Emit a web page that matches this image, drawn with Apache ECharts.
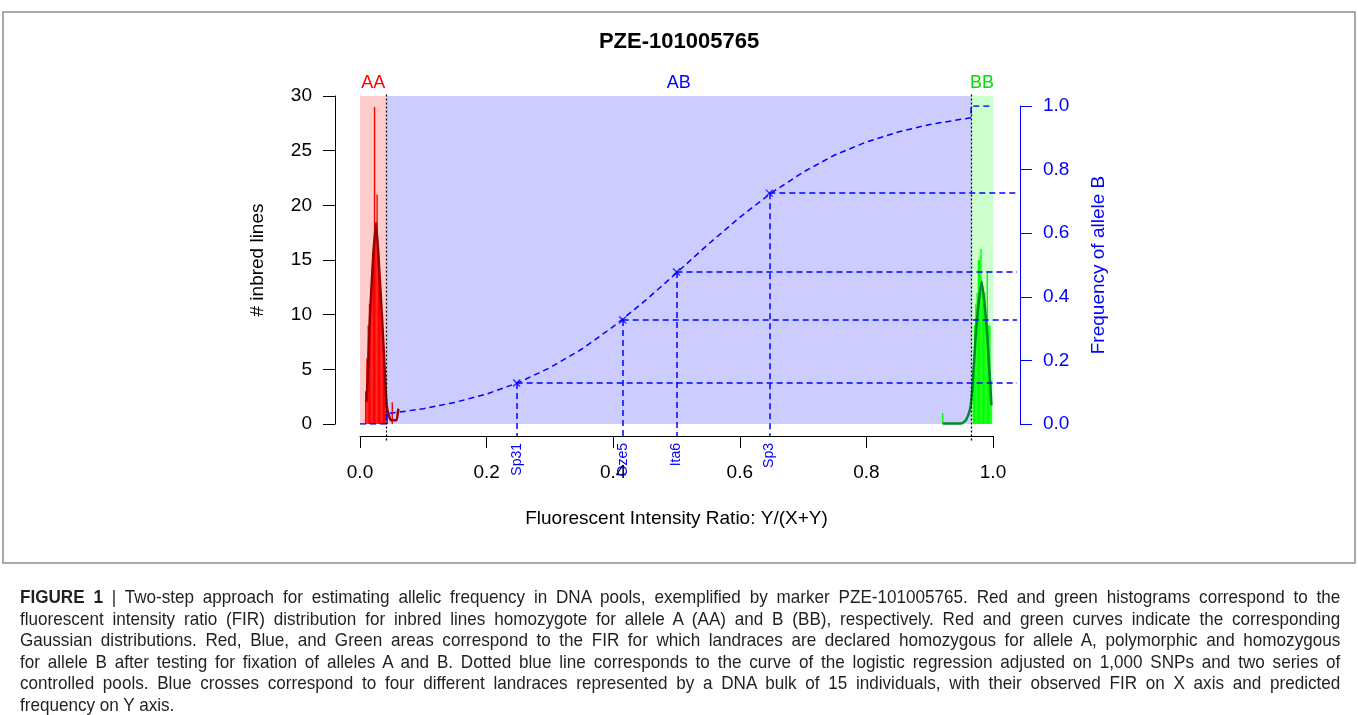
<!DOCTYPE html>
<html>
<head>
<meta charset="utf-8">
<title>PZE-101005765</title>
<script src="https://cdn.jsdelivr.net/npm/echarts@6/dist/echarts.min.js"></script>
<style>
	html, body { margin: 0; padding: 0; background: #fff; }
	#wrap { position: relative; width: 1358px; height: 715px; overflow: hidden; }
	#chart { position: absolute; left: 0; top: 0; width: 1358px; height: 715px; }
	#caption {
		position: absolute; left: 20px; top: 586px; width: 1467px;
		font-family: "Liberation Sans", Arial, sans-serif;
		font-size: 19px; line-height: 21.6px; color: #231f20;
	}
	#caption div {
		width: 1467px; white-space: nowrap;
		text-align: justify; text-align-last: justify;
		transform: scaleX(0.9); transform-origin: left center;
	}
	#caption div.last { text-align-last: left; }
</style>
</head>
<body>
<div id="wrap">
	<div id="chart"></div>
	<div id="caption">
		<div><b>FIGURE 1</b> | Two-step approach for estimating allelic frequency in DNA pools, exemplified by marker PZE-101005765. Red and green histograms correspond to the</div>
		<div>fluorescent intensity ratio (FIR) distribution for inbred lines homozygote for allele A (AA) and B (BB), respectively. Red and green curves indicate the corresponding</div>
		<div>Gaussian distributions. Red, Blue, and Green areas correspond to the FIR for which landraces are declared homozygous for allele A, polymorphic and homozygous</div>
		<div>for allele B after testing for fixation of alleles A and B. Dotted blue line corresponds to the curve of the logistic regression adjusted on 1,000 SNPs and two series of</div>
		<div>controlled pools. Blue crosses correspond to four different landraces represented by a DNA bulk of 15 individuals, with their observed FIR on X axis and predicted</div>
		<div class="last">frequency on Y axis.</div>
	</div>
</div>
<script>
	const FONT = '"Liberation Sans", Arial, Helvetica, sans-serif';
	const BLUE = '#0000FF';

	// axis ranges
	const countMax = 30;

	// AA / AB / BB zones (FIR limits)
	const zoneNames = ['AA', 'AB', 'BB'];
	const zoneFrom = [0, 0.0416, 0.9653];
	const zoneTo = [0.0416, 0.9653, 1.0];
	const zoneFill = ['#FFCCCC', '#CCCCFF', '#CCFFCC'];
	const zoneText = ['#FF0000', '#0000FF', '#00E000'];
	const thresholds = [0.0416, 0.9653];

	// histogram of inbred lines, allele A (red)
	const binAA = [0.009, 0.011, 0.013, 0.015, 0.017, 0.019, 0.021, 0.023, 0.025, 0.027, 0.029, 0.031, 0.033, 0.035, 0.037, 0.039, 0.041, 0.043, 0.051];
	const countAA = [3, 6, 9, 11, 12, 14, 16, 29, 18, 21, 16, 13, 11, 9, 7, 4, 2, 1, 2];

	// histogram of inbred lines, allele B (green)
	const binBB = [0.9205, 0.969, 0.971, 0.973, 0.975, 0.977, 0.979, 0.981, 0.983, 0.985, 0.987, 0.989, 0.991, 0.993, 0.995, 0.997];
	const countBB = [1, 5, 9, 11, 12, 15, 15, 16, 13, 11, 12, 10, 14, 9, 9, 4];

	// gaussian curves
	const gaussAAx = [0.0105, 0.0130, 0.0155, 0.0205, 0.0253, 0.0300, 0.0350, 0.0390, 0.0421, 0.0460, 0.0495, 0.0575, 0.0605];
	const gaussAAy = [2.0, 5.5, 9.5, 15.0, 18.4, 14.5, 9.5, 5.0, 1.7, 0.7, 0.35, 0.35, 1.4];
	const gaussBBx = [0.9205, 0.9500, 0.9570, 0.9620, 0.9648, 0.9679, 0.9740, 0.9820, 0.9900, 0.9975];
	const gaussBBy = [0.05, 0.05, 0.35, 1.0, 1.7, 3.7, 9.1, 13.0, 8.8, 1.7];

	// logistic regression (frequency of allele B vs FIR)
	const fitX = [0, 0.0416, 0.0416, 0.10, 0.15, 0.20, 0.25, 0.30, 0.35, 0.40, 0.45, 0.50, 0.55, 0.60, 0.65, 0.70, 0.75, 0.80, 0.85, 0.90, 0.9653, 0.9653, 1.0];
	const fitY = [0, 0, 0.032, 0.048, 0.068, 0.094, 0.130, 0.177, 0.235, 0.306, 0.387, 0.475, 0.565, 0.650, 0.727, 0.792, 0.846, 0.887, 0.918, 0.942, 0.963, 1.0, 1.0];

	// landraces
	const landraceNames = ['Sp31', 'Oze5', 'Ita6', 'Sp3'];
	const landraceFIR = [0.2475, 0.415, 0.500, 0.6466];
	const landraceFreq = [0.129, 0.327, 0.478, 0.726];

	const zip = (a, b) => a.map((v, i) => [v, b[i]]);

	let myChart = echarts.init(document.getElementById('chart'), null, { renderer: 'canvas' });

	// dashed guides from each landrace to the axes
	let guides = [];
	landraceFIR.forEach((x, i) => {
		guides.push({ coords: [[x, landraceFreq[i]], [1.038, landraceFreq[i]]] });
		guides.push({ coords: [[x, landraceFreq[i]], [x, -0.038]] });
	});

	let option = {
		animation: false,
		textStyle: { fontFamily: FONT },
		title: {
			text: 'PZE-101005765',
			left: 'center',
			top: 26,
			textStyle: { fontSize: 22, fontWeight: 'bold', color: '#000', fontFamily: FONT }
		},
		graphic: [{
			type: 'rect',
			shape: { x: 3, y: 12, width: 1352, height: 551 },
			style: { fill: 'none', stroke: '#8c8c8c', lineWidth: 1.5 },
			silent: true
		}],
		grid: [
			{ left: 360, right: 365, top: 96, bottom: 291 },
			{ left: 360, right: 365, top: 106, bottom: 291 }
		],
		xAxis: [{
			gridIndex: 0,
			type: 'value',
			min: 0,
			max: 1,
			interval: 0.2,
			offset: 12,
			name: 'Fluorescent Intensity Ratio: Y/(X+Y)',
			nameLocation: 'middle',
			nameGap: 73,
			nameTextStyle: { fontSize: 19, color: '#000', fontFamily: FONT },
			axisLine: { show: true, onZero: false, lineStyle: { color: '#000', width: 1 } },
			axisTick: { show: true, length: 12, lineStyle: { color: '#000' } },
			axisLabel: {
				margin: 27, fontSize: 19, color: '#000', fontFamily: FONT,
				formatter: v => v.toFixed(1)
			},
			splitLine: { show: false }
		}, {
			gridIndex: 1,
			type: 'value',
			min: 0,
			max: 1,
			position: 'bottom',
			axisLine: { show: false },
			axisTick: { show: false },
			axisLabel: {
				customValues: landraceFIR,
				rotate: 90,
				margin: 19,
				fontSize: 14,
				color: BLUE,
				fontFamily: FONT,
				formatter: v => landraceNames[landraceFIR.indexOf(v)] || ''
			},
			splitLine: { show: false }
		}],
		yAxis: [{
			gridIndex: 0,
			type: 'value',
			min: 0,
			max: countMax,
			interval: 5,
			position: 'left',
			offset: 25,
			name: '# inbred lines',
			nameLocation: 'middle',
			nameGap: 68,
			nameTextStyle: { fontSize: 19, color: '#000', fontFamily: FONT },
			axisLine: { show: true, onZero: false, lineStyle: { color: '#000', width: 1 } },
			axisTick: { show: true, length: 12, lineStyle: { color: '#000' } },
			axisLabel: { margin: 23, fontSize: 19, color: '#000', fontFamily: FONT },
			splitLine: { show: false }
		}, {
			gridIndex: 1,
			type: 'value',
			min: 0,
			max: 1,
			interval: 0.2,
			position: 'right',
			offset: 27,
			name: 'Frequency of allele B',
			nameLocation: 'middle',
			nameGap: 69,
			nameTextStyle: { fontSize: 19, color: BLUE, fontFamily: FONT },
			axisLine: { show: true, onZero: false, lineStyle: { color: BLUE, width: 1 } },
			axisTick: { show: true, length: 12, lineStyle: { color: BLUE } },
			axisLabel: {
				margin: 23, fontSize: 19, color: BLUE, fontFamily: FONT,
				formatter: v => v.toFixed(1)
			},
			splitLine: { show: false }
		}],
		series: [
			// coloured zones + AA / AB / BB labels
			{
				type: 'custom',
				xAxisIndex: 0,
				yAxisIndex: 0,
				z: 0,
				silent: true,
				data: zoneFrom.map((v, i) => [v, zoneTo[i]]),
				renderItem: function (params, api) {
					const i = params.dataIndex;
					const p0 = api.coord([api.value(0), countMax]);
					const p1 = api.coord([api.value(1), 0]);
					return {
						type: 'group',
						children: [{
							type: 'rect',
							shape: { x: p0[0], y: p0[1], width: p1[0] - p0[0], height: p1[1] - p0[1] },
							style: { fill: zoneFill[i] }
						}, {
							type: 'text',
							style: {
								text: zoneNames[i],
								x: (p0[0] + p1[0]) / 2,
								y: p0[1] - 4,
								align: 'center',
								verticalAlign: 'bottom',
								fill: zoneText[i],
								fontSize: 18,
								fontFamily: FONT
							}
						}]
					};
				}
			},
			{
				name: 'AA',
				type: 'bar',
				xAxisIndex: 0,
				yAxisIndex: 0,
				z: 2,
				barWidth: 1.4,
				barGap: '-100%',
				data: zip(binAA, countAA),
				itemStyle: { color: '#FF0000' }
			},
			{
				name: 'BB',
				type: 'bar',
				xAxisIndex: 0,
				yAxisIndex: 0,
				z: 2,
				barWidth: 1.4,
				barGap: '-100%',
				data: zip(binBB, countBB),
				itemStyle: { color: '#00FF00' }
			},
			{
				type: 'line',
				xAxisIndex: 0,
				yAxisIndex: 0,
				z: 3,
				symbol: 'none',
				smooth: 0.2,
				data: zip(gaussAAx, gaussAAy),
				lineStyle: { color: '#9B0000', width: 2.5 }
			},
			{
				type: 'line',
				xAxisIndex: 0,
				yAxisIndex: 0,
				z: 3,
				symbol: 'none',
				smooth: 0.2,
				data: zip(gaussBBx, gaussBBy),
				lineStyle: { color: '#008A28', width: 2.5 }
			},
			// thresholds (dotted)
			{
				type: 'lines',
				coordinateSystem: 'cartesian2d',
				xAxisIndex: 0,
				yAxisIndex: 0,
				z: 4,
				clip: false,
				silent: true,
				data: thresholds.map(t => ({ coords: [[t, -1.5], [t, 30.2]] })),
				lineStyle: { color: '#000', width: 1.3, type: [2, 2], opacity: 1 }
			},
			// logistic curve
			{
				type: 'line',
				xAxisIndex: 1,
				yAxisIndex: 1,
				z: 5,
				symbol: 'none',
				data: zip(fitX, fitY),
				lineStyle: { color: BLUE, width: 1.5, type: [6, 4] }
			},
			{
				type: 'lines',
				coordinateSystem: 'cartesian2d',
				xAxisIndex: 1,
				yAxisIndex: 1,
				z: 5,
				clip: false,
				silent: true,
				data: guides,
				lineStyle: { color: BLUE, width: 1.5, type: [6, 4], opacity: 1 }
			},
			{
				type: 'scatter',
				xAxisIndex: 1,
				yAxisIndex: 1,
				z: 6,
				symbol: 'path://M0,0L10,10M10,0L0,10',
				symbolSize: 7,
				data: zip(landraceFIR, landraceFreq),
				itemStyle: { color: 'none', borderColor: BLUE, borderWidth: 1.3 }
			}
		]
	};

	myChart.setOption(option);
</script>
</body>
</html>
